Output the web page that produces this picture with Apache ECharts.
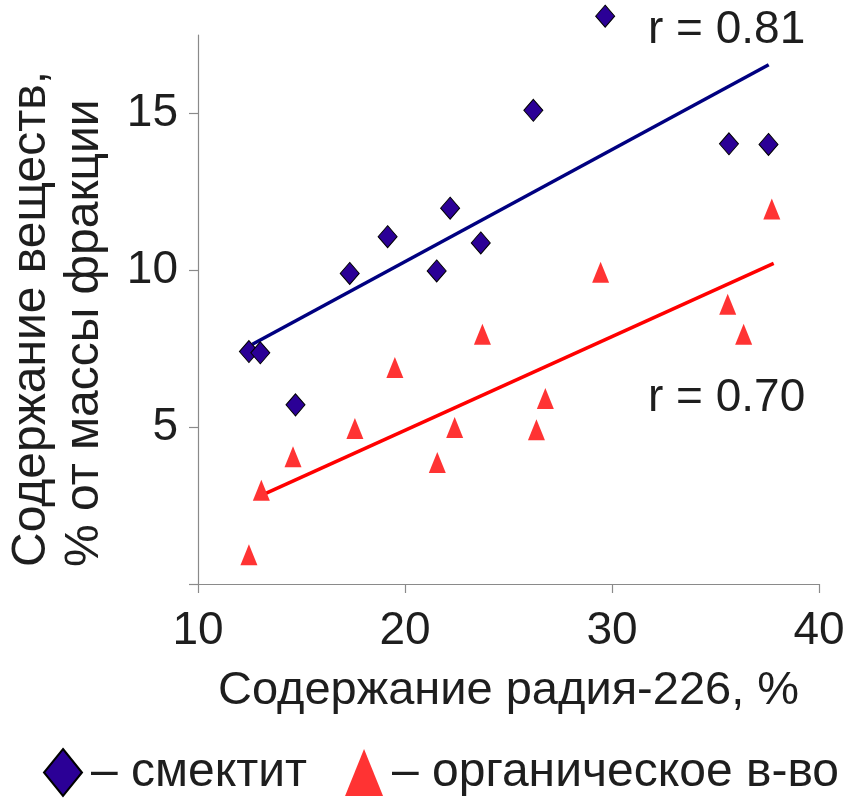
<!DOCTYPE html>
<html>
<head>
<meta charset="utf-8">
<script src="https://cdn.jsdelivr.net/npm/echarts@6/dist/echarts.min.js"></script>
<style>
html,body{margin:0;padding:0;background:#fff;}
#chart{width:857px;height:802px;}
</style>
</head>
<body>
<div id="chart"></div>
<script>
// ---- data ----
var smectiteX = [12.46, 13.01, 14.71, 17.33, 19.16, 21.53, 22.18, 23.66, 26.20, 29.67, 35.65, 37.56];
var smectiteY = [7.41, 7.37, 5.71, 9.90, 11.07, 9.98, 11.98, 10.87, 15.10, 18.10, 14.03, 14.01];
var organicX = [12.46, 13.06, 14.59, 17.58, 19.51, 21.56, 22.40, 23.74, 26.35, 26.78, 29.45, 35.59, 36.36, 37.72];
var organicY = [0.93, 2.99, 4.06, 4.96, 6.90, 3.87, 4.99, 7.96, 4.92, 5.91, 9.94, 8.92, 7.96, 11.95];
var smectiteTrendX = [12.63, 37.57];
var smectiteTrendY = [7.64, 16.55];
var organicTrendX = [13.22, 37.81];
var organicTrendY = [2.87, 10.22];
var xTicks = [10, 20, 30, 40];
var yTicks = [0, 5, 10, 15];
var yTickLabels = [5, 10, 15];
var seriesNames = ['смектит', 'органическое в-во'];
var rLabels = ['r = 0.81', 'r = 0.70'];
var xTitle = 'Содержание радия-226, %';
var yTitle = ['Содержание веществ,', '% от массы фракции'];

function zip(xs, ys) { return xs.map(function (x, i) { return [x, ys[i]]; }); }

var FONT = "'Liberation Sans', Arial, sans-serif";
var TXT = '#1e1e1e';
var AX = '#8a8a8a';

var chart = echarts.init(document.getElementById('chart'), null, {renderer: 'canvas'});
chart.setOption({
  animation: false,
  backgroundColor: '#ffffff',
  grid: {left: 198, right: 38, top: 35, bottom: 218, containLabel: false},
  xAxis: {
    type: 'value', min: xTicks[0], max: xTicks[xTicks.length - 1], interval: 10,
    axisLine: {show: true, lineStyle: {color: AX, width: 1.2}},
    axisTick: {show: true, inside: false, length: 9, lineStyle: {color: AX, width: 1.2}},
    splitLine: {show: false},
    axisLabel: {margin: 24, fontSize: 46, color: TXT, fontFamily: FONT},
    name: xTitle, nameLocation: 'middle', nameGap: 84,
    nameTextStyle: {fontSize: 47, color: TXT, fontFamily: FONT}
  },
  yAxis: {
    type: 'value', min: 0, max: 17.5,
    axisLine: {show: true, lineStyle: {color: AX, width: 1.2}},
    axisTick: {show: true, inside: false, length: 9, customValues: yTicks, lineStyle: {color: AX, width: 1.2}},
    splitLine: {show: false},
    axisLabel: {margin: 20, fontSize: 46, color: TXT, fontFamily: FONT, customValues: yTickLabels}
  },
  legend: {
    left: 43, top: 748, padding: 0, itemGap: 38,
    itemWidth: 38, itemHeight: 47,
    data: [{name: seriesNames[0], icon: 'diamond'}, {name: seriesNames[1], icon: 'triangle'}],
    formatter: function (n) { return '– ' + n; },
    textStyle: {fontSize: 48, color: TXT, fontFamily: FONT, padding: [0, 0, 0, 4]}
  },
  graphic: [
    {type: 'text', x: 5, y: 567, rotation: Math.PI / 2, z: 10,
     style: {text: yTitle.join('\n'), font: '48px ' + FONT, fill: TXT,
              textAlign: 'left', textVerticalAlign: 'top', align: 'left', verticalAlign: 'top', lineHeight: 53}},
    {type: 'text', x: 648, y: 30, z: 10,
     style: {text: rLabels[0], font: '46px ' + FONT, fill: TXT,
              textAlign: 'left', textVerticalAlign: 'middle', align: 'left', verticalAlign: 'middle'}},
    {type: 'text', x: 648, y: 398, z: 10,
     style: {text: rLabels[1], font: '46px ' + FONT, fill: TXT,
              textAlign: 'left', textVerticalAlign: 'middle', align: 'left', verticalAlign: 'middle'}}
  ],
  series: [
    {name: 'trend1', type: 'line', data: zip(smectiteTrendX, smectiteTrendY), symbol: 'none',
     lineStyle: {color: '#000080', width: 3.5}, z: 2, silent: true},
    {name: 'trend2', type: 'line', data: zip(organicTrendX, organicTrendY), symbol: 'none',
     lineStyle: {color: '#ff0000', width: 3.5}, z: 2, silent: true},
    {name: seriesNames[0], type: 'scatter', data: zip(smectiteX, smectiteY), symbol: 'diamond',
     symbolSize: [19, 22], clip: false, z: 4,
     itemStyle: {color: '#2b0096', borderColor: '#000000', borderWidth: 1, opacity: 1}},
    {name: seriesNames[1], type: 'scatter', data: zip(organicX, organicY), symbol: 'triangle',
     symbolSize: [17, 21], clip: false, z: 3,
     itemStyle: {color: '#ff3333', opacity: 1}}
  ]
});
</script>
</body>
</html>
